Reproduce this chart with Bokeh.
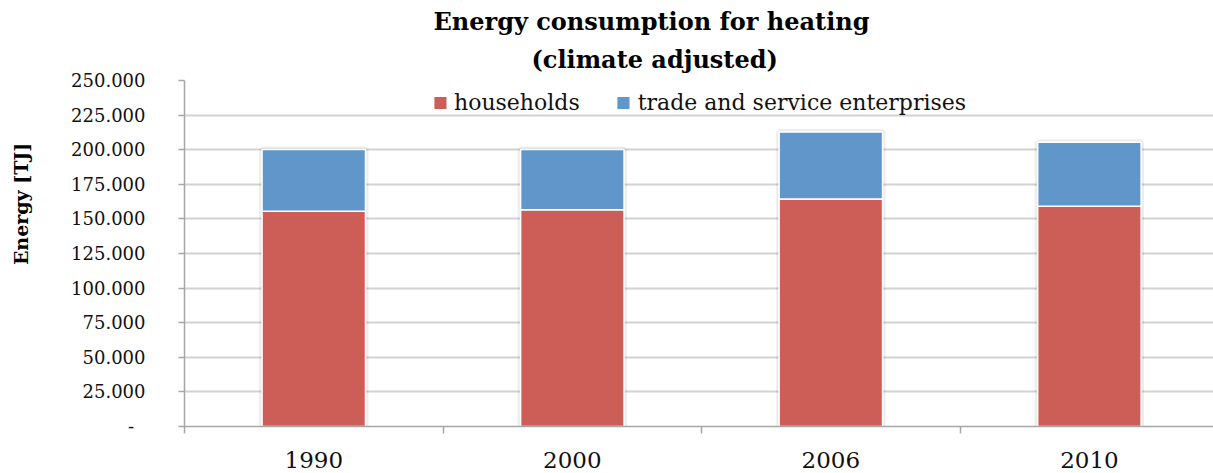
from bokeh.plotting import figure
from bokeh.models import ColumnDataSource, Range1d, FixedTicker, Title
from bokeh.embed import file_html
from bokeh.resources import INLINE

# Heating energy use by sector, climate adjusted (TJ)
years = ["1990", "2000", "2006", "2010"]
households = [155500, 156700, 164400, 159100]
trade = [44600, 43400, 48400, 46300]

y_ticks = [0, 25000, 50000, 75000, 100000, 125000, 150000, 175000, 200000, 225000, 250000]
y_tick_labels = ["-\u00a0\u00a0", "25.000", "50.000", "75.000", "100.000", "125.000",
                 "150.000", "175.000", "200.000", "225.000", "250.000"]

series_names = ["households", "trade and service enterprises"]
colors = ["#CD5E57", "#6096C9"]

FONT = "DejaVu Serif"
AXIS_GREY = "#a6a6a6"

# each year occupies one unit on a numeric axis; bars sit in the middle
xs = [i + 0.5 for i in range(len(years))]
source = ColumnDataSource(dict(x=xs, households=households, trade=trade,
                               total=[h + t for h, t in zip(households, trade)]))

p = figure(width=1213, height=473, output_backend="svg", toolbar_location=None,
           x_range=Range1d(0, 3.98), y_range=Range1d(0, 250000),
           min_border_left=184, min_border_right=0, min_border_top=80,
           min_border_bottom=47, outline_line_color=None)

# soft shadow round each stacked column
p.vbar(x="x", top="total", bottom=0, width=0.4, source=source,
       fill_color=None, line_color="#000000", line_alpha=0.07, line_width=6)

p.vbar_stack(["households", "trade"], x="x", width=0.4, source=source,
             color=colors, line_color="white", line_width=1.5,
             legend_label=series_names)

# y axis; the caption is padded at its start so it sits above the axis middle
p.yaxis.ticker = FixedTicker(ticks=y_ticks, minor_ticks=[])
p.yaxis.major_label_overrides = dict(zip(y_ticks, y_tick_labels))
p.yaxis.axis_label = "\u00a0" * 15 + "Energy [TJ]"
p.yaxis.axis_label_text_font = FONT
p.yaxis.axis_label_text_font_style = "bold"
p.yaxis.axis_label_text_font_size = "19px"
p.yaxis.axis_label_text_color = "#000000"
p.yaxis.axis_label_standoff = 36
p.yaxis.major_label_text_font = FONT
p.yaxis.major_label_text_font_size = "18px"
p.yaxis.major_label_text_color = "#111111"
p.yaxis.major_label_standoff = 33
p.yaxis.major_tick_out = 6
p.yaxis.major_tick_in = 0
p.yaxis.minor_tick_out = 0
p.yaxis.minor_tick_in = 0
p.yaxis.axis_line_color = AXIS_GREY
p.yaxis.axis_line_width = 1.5
p.yaxis.major_tick_line_color = AXIS_GREY
p.yaxis.major_tick_line_width = 1.5

# x axis: labels at column centres, tick marks on the category boundaries
p.xaxis.ticker = FixedTicker(ticks=xs, minor_ticks=list(range(len(years) + 1)))
p.xaxis.major_label_overrides = dict(zip(xs, years))
p.xaxis.major_label_text_font = FONT
p.xaxis.major_label_text_font_size = "23px"
p.xaxis.major_label_text_color = "#111111"
p.xaxis.major_label_standoff = 18
p.xaxis.major_tick_out = 0
p.xaxis.major_tick_in = 0
p.xaxis.minor_tick_out = 7
p.xaxis.minor_tick_in = 0
p.xaxis.minor_tick_line_color = AXIS_GREY
p.xaxis.minor_tick_line_width = 1.5
p.xaxis.axis_line_color = AXIS_GREY
p.xaxis.axis_line_width = 1.5

p.xgrid.grid_line_color = None
p.ygrid.ticker = FixedTicker(ticks=y_ticks[1:])
p.ygrid.grid_line_color = "#d2d2d2"
p.ygrid.grid_line_width = 2

# legend across the top of the plot area
leg = p.legend[0]
leg.location = "top_center"
leg.orientation = "horizontal"
leg.margin = 0
leg.padding = 10
leg.spacing = 35
leg.glyph_width = 17
leg.glyph_height = 17
leg.label_standoff = 6
leg.label_text_font = FONT
leg.label_text_font_size = "22px"
leg.label_text_color = "#111111"
leg.border_line_alpha = 0
leg.background_fill_alpha = 0

# two-line bold title: the built-in title is the top line,
# the subtitle is stacked between it and the plot
p.title.text = "Energy consumption for heating"
p.title.align = "left"
p.title.offset = 249
p.title.standoff = 0
p.title.text_font = FONT
p.title.text_font_style = "bold"
p.title.text_font_size = "24px"
p.title.text_color = "#000000"

p.add_layout(Title(text="(climate adjusted)", align="left", offset=347,
                   standoff=14, text_font=FONT, text_font_style="bold",
                   text_font_size="24px", text_color="#000000"), "above")

open("out.html", "w").write(file_html(p, INLINE))
